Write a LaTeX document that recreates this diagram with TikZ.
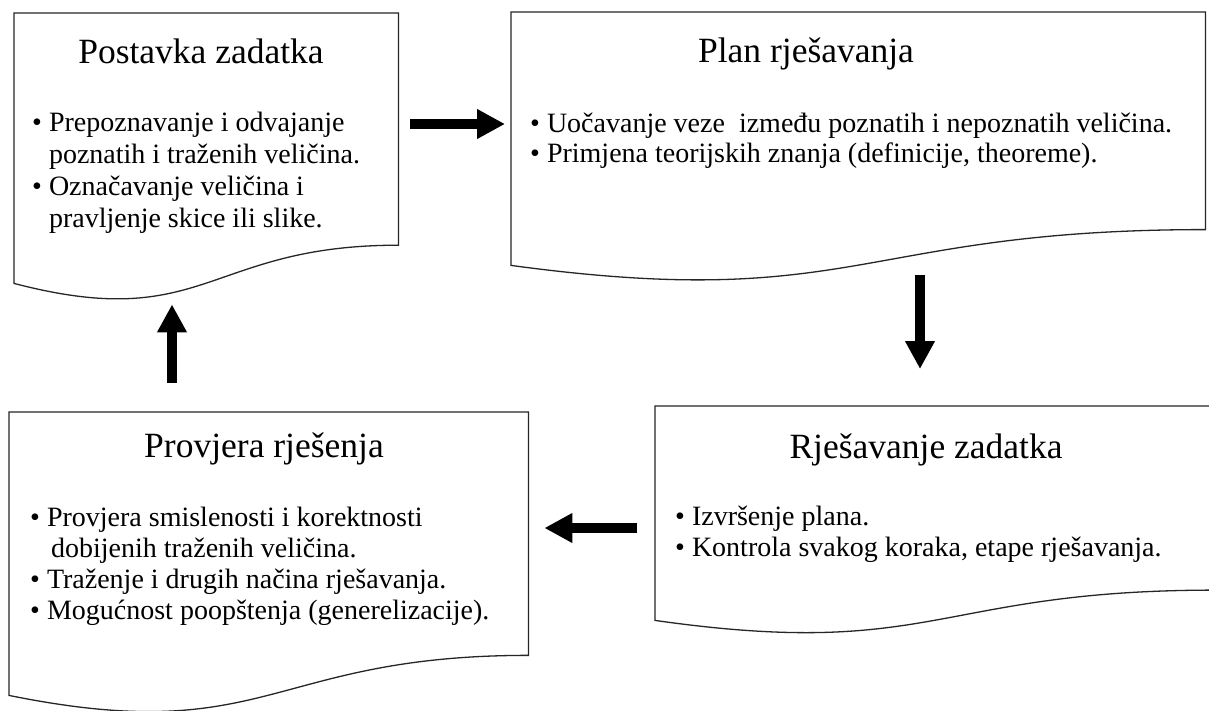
\documentclass[tikz,border=0pt]{standalone}
\usepackage{fontspec}
\setmainfont{Liberation Serif}
\usetikzlibrary{calc,arrows.meta}

% list of points inside a box, first baseline on top
\newcommand{\spisak}[1]{\begin{tabular}[t]{@{}l@{}}#1\end{tabular}}
\newcommand{\uvuci}{\hphantom{\textbullet\ }}

% outline of a document box (wavy bottom)
\newcommand{\dokument}[1]{%
  \draw[linija] (#1.north west) -- (#1.north east)
    -- ($(#1.north east)!0.8587!(#1.south east)$)
    .. controls ($(#1.north)!0.8587!(#1.south)$) and ($(#1.north)!1.1858!(#1.south)$)
    .. (#1.south west) -- cycle;}

\tikzset{
  okvir/.style={rectangle, inner sep=0pt, anchor=north west},
  linija/.style={draw=black!85, line width=1.3pt},
  naslov/.style={anchor=base, inner sep=0pt, font=\fontsize{35.5}{40}\selectfont},
  tekst/.style={anchor=base west, inner sep=0pt, font=\fontsize{28}{31}\selectfont},
  strelica/.style={line width=10pt, -{Triangle[width=28pt,length=28pt]}}
}

\begin{document}
\begin{tikzpicture}[x=1pt, y=-1pt]
  \useasboundingbox (0,0) rectangle (1209,710);
  \fill[white] (0,0) rectangle (1209,710);
  \clip (0,0) rectangle (1209,710);

  \node[okvir, minimum width=384pt, minimum height=270pt] (postavka) at (14,13) {};
  \node[okvir, minimum width=694pt, minimum height=253pt] (plan) at (511,12) {};
  \node[okvir, minimum width=519pt, minimum height=283pt] (provjera) at (9,412) {};
  \node[okvir, minimum width=560pt, minimum height=214pt] (rjesavanje) at (655,406) {};

  \dokument{postavka}
  \dokument{plan}
  \dokument{provjera}
  \dokument{rjesavanje}

  \node[naslov] (postavka-naslov) at ([xshift=187pt,yshift=-50pt]postavka.north west) {Postavka zadatka};
  \node[naslov] (plan-naslov) at ([xshift=295pt,yshift=-50pt]plan.north west) {Plan rješavanja};
  \node[naslov] (provjera-naslov) at ([xshift=255pt,yshift=-45pt]provjera.north west) {Provjera rješenja};
  \node[naslov] (rjesavanje-naslov) at ([xshift=271pt,yshift=-52pt]rjesavanje.north west) {Rješavanje zadatka};

  \node[tekst, font=\fontsize{28}{32}\selectfont] (postavka-tekst)
    at ([xshift=18pt,yshift=-118pt]postavka.north west) {\spisak{%
    \textbullet\ Prepoznavanje i odvajanje\\
    \uvuci poznatih i traženih veličina.\\
    \textbullet\ Označavanje veličina i\\
    \uvuci pravljenje skice ili slike.}};
  \node[tekst, font=\fontsize{28}{30}\selectfont] (plan-tekst)
    at ([xshift=19pt,yshift=-120pt]plan.north west) {\spisak{%
    \textbullet\ Uočavanje veze\ \ između poznatih i nepoznatih veličina.\\
    \textbullet\ Primjena teorijskih znanja (definicije, theoreme).}};
  \node[tekst] (provjera-tekst)
    at ([xshift=21pt,yshift=-114pt]provjera.north west) {\spisak{%
    \textbullet\ Provjera smislenosti i korektnosti\\
    \uvuci\hspace*{4pt}dobijenih traženih veličina.\\
    \textbullet\ Traženje i drugih načina rješavanja.\\
    \textbullet\ Mogućnost poopštenja (generelizacije).}};
  \node[tekst] (rjesavanje-tekst)
    at ([xshift=20pt,yshift=-119pt]rjesavanje.north west) {\spisak{%
    \textbullet\ Izvršenje plana.\\
    \textbullet\ Kontrola svakog koraka, etape rješavanja.}};

  \draw[strelica, shorten <=12pt, shorten >=6pt] (postavka.east |- 0,124) -- (plan.west |- 0,124);
  \draw[strelica, shorten <=10pt, shorten >=37pt] (plan.south -| 920,0) -- (rjesavanje.north -| 920,0);
  \draw[strelica, shorten <=18pt, shorten >=16pt] (rjesavanje.west |- 0,528) -- (provjera.east |- 0,528);
  \draw[strelica, shorten <=29pt, shorten >=21pt] (provjera.north -| 172,0) -- (postavka.south -| 172,0);
\end{tikzpicture}
\end{document}
